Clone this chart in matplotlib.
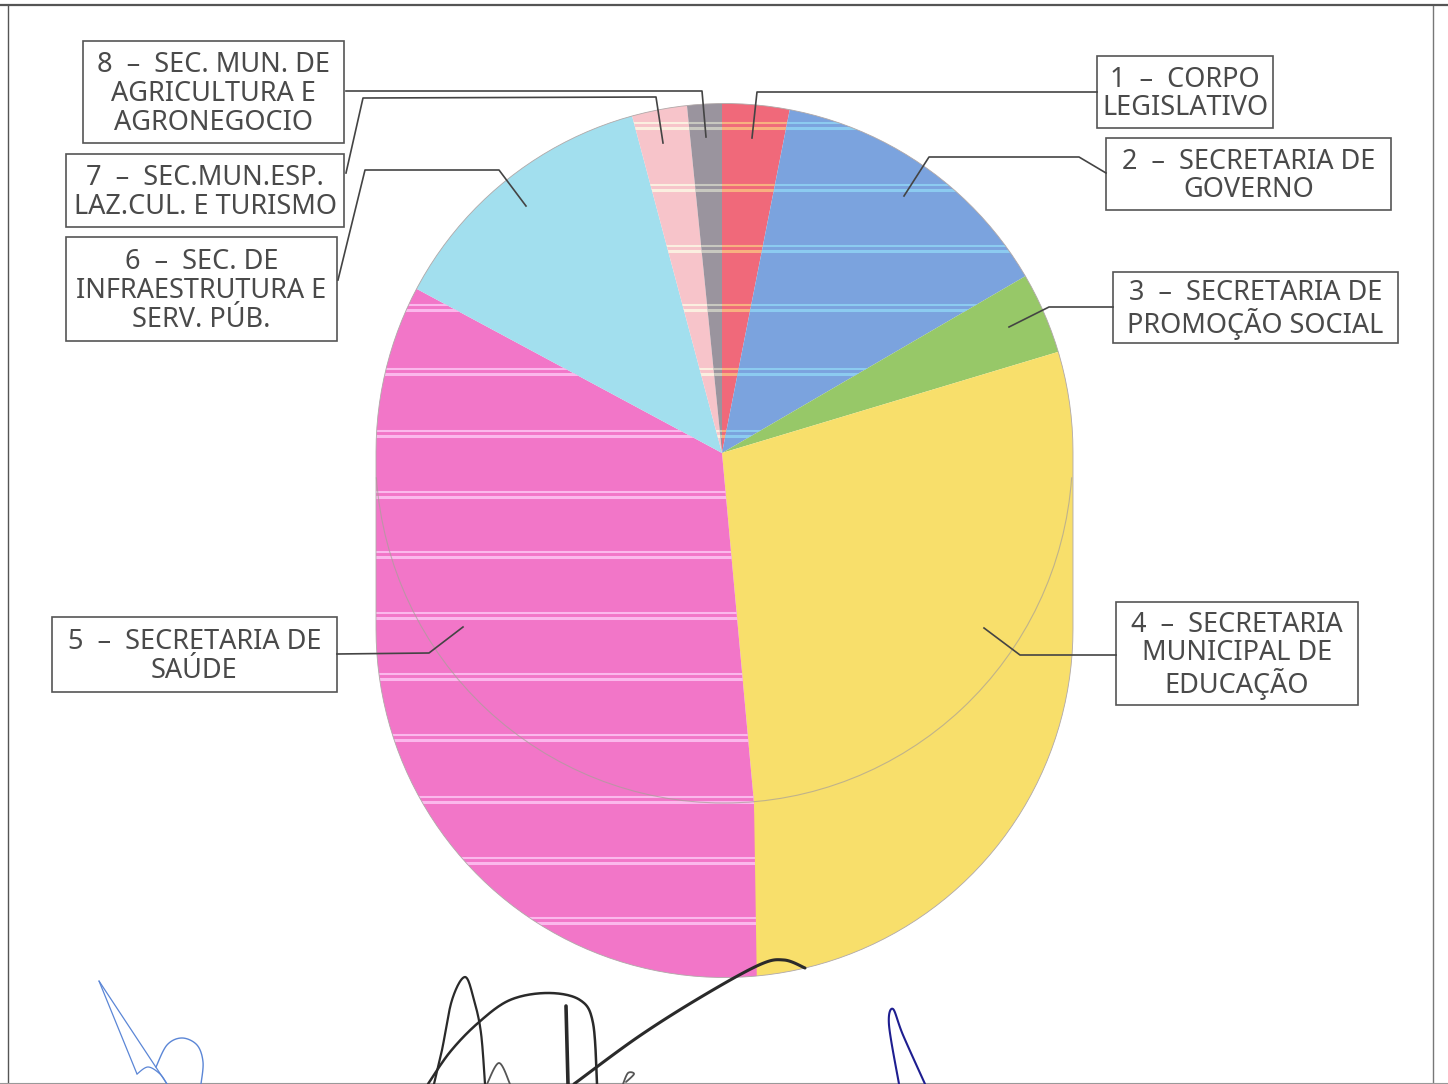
import numpy as np
import matplotlib
matplotlib.use("Agg")
import matplotlib.pyplot as plt
from matplotlib.patches import Arc, PathPatch, Polygon, Rectangle
from matplotlib.path import Path

plt.rcParams["font.family"] = ["Noto Sans", "DejaVu Sans"]

# ============== Daten ==============
labels = [
    "1  –  CORPO\nLEGISLATIVO",
    "2  –  SECRETARIA DE\nGOVERNO",
    "3  –  SECRETARIA DE\nPROMOÇÃO SOCIAL",
    "4  –  SECRETARIA\nMUNICIPAL DE\nEDUCAÇÃO",
    "5  –  SECRETARIA DE\nSAÚDE",
    "6  –  SEC. DE\nINFRAESTRUTURA E\nSERV. PÚB.",
    "7  –  SEC.MUN.ESP.\nLAZ.CUL. E TURISMO",
    "8  –  SEC. MUN. DE\nAGRICULTURA E\nAGRONEGOCIO",
]
values = [3.1, 13.5, 3.75, 28.2, 34.3, 13.0, 2.55, 1.6]
colors = ["#F0697A", "#7BA3DE", "#97C868", "#F8DF6B",
          "#F276C8", "#A2DFEE", "#F7C4CA", "#9A949E"]
stripe_colors = ["#F8B080", "#8CCBF0", None, None,
                 "#FBB8EC", None, "#FBEFE0", "#C8C8C0"]

# Kastenposition (x0, y0, x1, y1) in Pixeln
boxes = [
    (1097, 56, 1273, 128), (1106, 138, 1391, 210), (1113, 272, 1398, 343),
    (1116, 602, 1358, 705), (52, 617, 337, 692), (66, 237, 337, 341),
    (66, 154, 344, 227), (83, 41, 344, 143),
]
leaders = [
    [(1097, 92), (757, 92), (752, 138)],
    [(1106, 173), (1079, 157), (929, 157), (904, 196)],
    [(1113, 307), (1049, 307), (1009, 327)],
    [(1116, 655), (1020, 655), (984, 628)],
    [(337, 654), (429, 653), (463, 627)],
    [(338, 280), (365, 170), (499, 170), (526, 206)],
    [(346, 173), (363, 98), (656, 97), (663, 143)],
    [(346, 91), (702, 91), (706, 137)],
]
stripe_y = [123, 185, 246, 305, 369, 431, 492, 552, 613, 674, 735, 797, 858, 918]

# Unterschriften (Kontrollpunkte)
signatures = [
    ("#5B86D6", 0.9, [(99, 981), (167, 1084)]),
    ("#5B86D6", 0.9, [(99, 981), (137, 1074)]),
    ("#5B86D6", 0.9, [(137, 1074), (148, 1067), (160, 1074), (167, 1084)]),
    ("#5B86D6", 1.0, [(156, 1067), (167, 1045), (182, 1038), (197, 1045), (203, 1062), (201, 1084)]),
    ("#2A2A2A", 1.6, [(434, 1084), (442, 1050), (452, 1000), (465, 977), (474, 1000), (481, 1033), (485, 1084)]),
    ("#2A2A2A", 1.8, [(428, 1084), (450, 1052), (478, 1023), (510, 1000), (548, 993), (580, 1000), (593, 1023), (597, 1084)]),
    ("#2A2A2A", 2.6, [(566, 1006), (567, 1045), (568, 1084)]),
    ("#2A2A2A", 2.2, [(574, 1084), (638, 1037), (701, 997), (759, 965), (784, 960), (805, 968)]),
    ("#555555", 1.3, [(487, 1084), (499, 1063), (510, 1084)]),
    ("#555555", 1.3, [(623, 1084), (628, 1073), (634, 1074), (626, 1082)]),
    ("#1E1E90", 1.5, [(899, 1084), (889, 1025), (893, 1009), (903, 1035), (925, 1084)]),
]


def smooth(points, n=24):
    """Catmull-Rom durch die Kontrollpunkte."""
    p = np.array([points[0]] + list(points) + [points[-1]], dtype=float)
    out = []
    for i in range(1, len(p) - 2):
        t = np.linspace(0, 1, n)[:, None]
        out.append(0.5 * (2 * p[i] + (p[i + 1] - p[i - 1]) * t
                          + (2 * p[i - 1] - 5 * p[i] + 4 * p[i + 1] - p[i + 2]) * t ** 2
                          + (3 * p[i] - p[i - 1] - 3 * p[i + 1] + p[i + 2]) * t ** 3))
    return np.vstack(out)


fig = plt.figure(figsize=(14.48, 10.84), dpi=100)
ax = fig.add_axes([0, 0, 1, 1])

# Kreisdiagramm, aussen weiss abgedeckt auf die gestreckte Form
wedges, _ = ax.pie(values, colors=colors, center=(722, 453), radius=1500,
                   startangle=-90, counterclock=True, frame=True)

# helle Streifen aus dem Scan
for w, col in zip(wedges, stripe_colors):
    if col is None:
        continue
    for y in stripe_y:
        for dy, lw in ((0, 1.5), (5, 2.2)):
            line, = ax.plot([300, 1150], [y + dy, y + dy], color=col, lw=lw, zorder=2)
            line.set_clip_path(w.get_path(), w.get_transform())

# Seitenwand: unter dem Kreis läuft die Grenze 4/5 fast senkrecht
ax.add_patch(Polygon([(754, 802), (757, 990), (800, 990)], fc=colors[3], ec="none", zorder=2.5))

cx, r, y_top, y_bottom = 724.5, 348.5, 452, 629
a_top = np.linspace(np.pi, 2 * np.pi, 90)
a_bot = np.linspace(0, np.pi, 90)
outline = np.vstack([
    np.column_stack([cx + r * np.cos(a_top), y_top + r * np.sin(a_top)]),
    np.column_stack([cx + r * np.cos(a_bot), y_bottom + r * np.sin(a_bot)]),
    [[cx - r, y_top]],
])
outer = np.array([[-5, -5], [-5, 1090], [1455, 1090], [1455, -5], [-5, -5]], dtype=float)
mask = Path.make_compound_path(Path(outer, closed=True), Path(outline, closed=True))
ax.add_patch(PathPatch(mask, fc="white", ec="none", zorder=3))
ax.add_patch(PathPatch(Path(outline, closed=True), fc="none", ec="#B0A8A8", lw=0.6, zorder=3))

# schwacher Kreisbogen der Oberseite
ax.add_patch(Arc((724, 453), 697, 700, theta1=4, theta2=176, ec="#A8A098", lw=0.8,
                 alpha=0.7, zorder=4))

# Legendenkästen und Führungslinien
for (x0, y0, x1, y1), text in zip(boxes, labels):
    ax.add_patch(Rectangle((x0, y0), x1 - x0, y1 - y0, fc="white", ec="#555555", lw=1.2, zorder=5))
    ax.text((x0 + x1) / 2, (y0 + y1) / 2 + 2, text, ha="center", va="center", fontsize=19.5,
            color="#4A4A4A", linespacing=1.04, zorder=6)
for pts in leaders:
    xs, ys = zip(*pts)
    ax.plot(xs, ys, color="#444444", lw=1.2, zorder=5)

# Rahmen
ax.plot([8, 8], [5, 1084], color="#555555", lw=1.0, zorder=4)
ax.plot([1433, 1433], [5, 1084], color="#777777", lw=1.0, zorder=4)
ax.plot([0, 1448], [5, 5], color="#555555", lw=1.6, zorder=4)
ax.plot([0, 1448], [1083, 1083], color="#999999", lw=0.8, zorder=4)

for col, lw, pts in signatures:
    c = smooth(pts)
    ax.plot(c[:, 0], c[:, 1], color=col, lw=lw, zorder=7, solid_capstyle="round")

ax.set_aspect("auto")
ax.set_xlim(0, 1448)
ax.set_ylim(1084, 0)
ax.axis("off")
fig.savefig("out.png", dpi=100, facecolor="white")
